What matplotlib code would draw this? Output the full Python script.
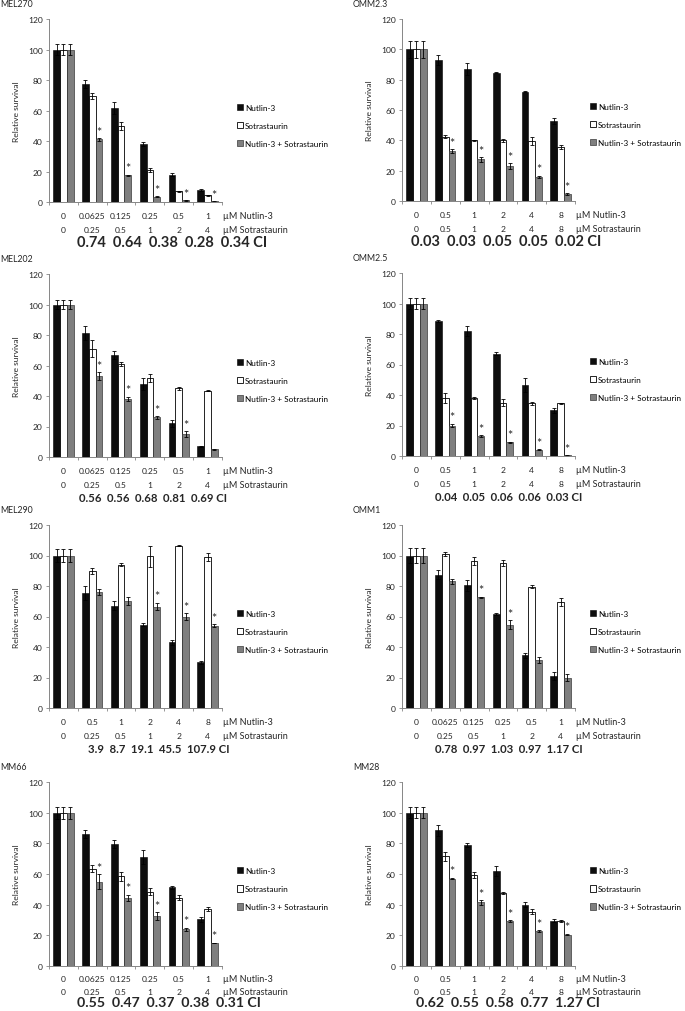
import numpy as np
import matplotlib
matplotlib.use('Agg')
import matplotlib.pyplot as plt
from matplotlib.patches import Patch

plt.rcParams['font.family'] = ['Lato', 'DejaVu Sans']

# ==========================================
# DATA
# ==========================================
series_names = ['Nutlin-3', 'Sotrastaurin', 'Nutlin-3 + Sotrastaurin']

nut_dose_low = ['0', '0.0625', '0.125', '0.25', '0.5', '1']
sot_dose_low = ['0', '0.25', '0.5', '1', '2', '4']
dose_equal = ['0', '0.5', '1', '2', '4', '8']
sot_dose_half = ['0', '0.25', '0.5', '1', '2', '4']

# MEL270
mel270_nut = [100, 77.5, 61.5, 38, 18, 8]
mel270_nut_err = [3.5, 2.5, 4, 1.2, 1.2, 0.5]
mel270_sot = [100, 69.5, 50, 21, 7, 4.5]
mel270_sot_err = [3.5, 2, 2.5, 1, 0.2, 0.3]
mel270_combo = [100, 41, 17.5, 3.5, 1, 0.5]
mel270_combo_err = [3.5, 1, 0.5, 0.5, 0.2, 0.2]
mel270_star = [0, 1, 1, 1, 1, 1]
mel270_ci = ['0.74', '0.64', '0.38', '0.28', '0.34']

# OMM2.3
omm23_nut = [100, 93, 87, 84.5, 72, 53]
omm23_nut_err = [5.5, 3.5, 4, 0.3, 0.3, 2]
omm23_sot = [100, 42.5, 40, 40, 39.5, 35.5]
omm23_sot_err = [5.5, 0.8, 0.5, 1, 2.5, 1.5]
omm23_combo = [100, 33, 27.5, 23, 16, 4.5]
omm23_combo_err = [5.5, 1.2, 1.5, 2, 0.8, 0.5]
omm23_star = [0, 1, 1, 1, 1, 1]
omm23_ci = ['0.03', '0.03', '0.05', '0.05', '0.02']

# MEL202
mel202_nut = [100, 81.5, 67, 48, 22, 7]
mel202_nut_err = [3, 4.5, 2.5, 4, 2, 0.5]
mel202_sot = [100, 71, 61, 52, 45, 43.5]
mel202_sot_err = [3, 5.5, 1.5, 2.5, 1, 0.5]
mel202_combo = [100, 53, 38, 26, 15, 5]
mel202_combo_err = [3, 2.5, 1.5, 0.8, 2, 0.3]
mel202_star = [0, 1, 1, 1, 1, 0]
mel202_ci = ['0.56', '0.56', '0.68', '0.81', '0.69']

# OMM2.5
omm25_nut = [100, 88.5, 82, 67, 46.5, 30]
omm25_nut_err = [3.5, 0.5, 3.5, 1, 4.5, 1.5]
omm25_sot = [100, 38, 38, 35, 34.5, 34.5]
omm25_sot_err = [3.5, 3, 0.8, 2.5, 1, 0.5]
omm25_combo = [100, 20, 13, 9, 4, 0.5]
omm25_combo_err = [3.5, 1.2, 0.5, 0.4, 0.3, 0.2]
omm25_star = [0, 1, 1, 1, 1, 1]
omm25_ci = ['0.04', '0.05', '0.06', '0.06', '0.03']

# MEL290
mel290_nut = [100, 75.5, 67, 54.5, 43, 30]
mel290_nut_err = [4, 4.5, 3, 1, 1.5, 1]
mel290_sot = [100, 90, 94, 99.5, 106.5, 99]
mel290_sot_err = [4, 2, 1, 7, 0.3, 2.5]
mel290_combo = [100, 76, 70, 66.5, 60, 54]
mel290_combo_err = [4, 2, 2.5, 2.5, 2, 1]
mel290_star = [0, 0, 0, 1, 1, 1]
mel290_ci = ['3.9', '8.7', '19.1', '45.5', '107.9']

# OMM1
omm1_nut = [100, 87.5, 80.5, 61.5, 34.5, 21]
omm1_nut_err = [5, 3, 3.5, 0.5, 1.5, 2.5]
omm1_sot = [100, 101, 96.5, 95, 79.5, 69.5]
omm1_sot_err = [5, 1.5, 2.5, 2, 1, 2.5]
omm1_combo = [100, 83, 72.5, 54.5, 31.5, 20]
omm1_combo_err = [5, 1.5, 0.5, 3, 2, 2.5]
omm1_star = [0, 0, 1, 1, 0, 0]
omm1_ci = ['0.78', '0.97', '1.03', '0.97', '1.17']

# MM66
mm66_nut = [100, 86, 79.5, 71, 51.5, 30.5]
mm66_nut_err = [4, 2.5, 2.5, 4.5, 1, 1.5]
mm66_sot = [100, 63.5, 58.5, 48.5, 44.5, 37]
mm66_sot_err = [4, 2.5, 3, 2.5, 1.5, 1.2]
mm66_combo = [100, 55, 44.5, 32.5, 24, 15]
mm66_combo_err = [4, 5, 2, 2.5, 1, 0.3]
mm66_star = [0, 1, 1, 1, 1, 1]
mm66_ci = ['0.55', '0.47', '0.37', '0.38', '0.31']

# MM28
mm28_nut = [100, 88.5, 79, 62, 40, 29.5]
mm28_nut_err = [3.5, 3.5, 1.5, 3.5, 1.5, 1]
mm28_sot = [100, 71.5, 59.5, 47.5, 35.5, 29.5]
mm28_sot_err = [3.5, 3, 2, 0.8, 1.5, 0.5]
mm28_combo = [100, 57, 41.5, 29.5, 23, 20.5]
mm28_combo_err = [3.5, 0.5, 1.5, 0.5, 0.5, 0.5]
mm28_star = [0, 1, 1, 1, 1, 1]
mm28_ci = ['0.62', '0.55', '0.58', '0.77', '1.27']

panels = [
    ('MEL270', mel270_nut, mel270_nut_err, mel270_sot, mel270_sot_err, mel270_combo, mel270_combo_err, mel270_star, mel270_ci, nut_dose_low, sot_dose_low),
    ('OMM2.3', omm23_nut, omm23_nut_err, omm23_sot, omm23_sot_err, omm23_combo, omm23_combo_err, omm23_star, omm23_ci, dose_equal, dose_equal),
    ('MEL202', mel202_nut, mel202_nut_err, mel202_sot, mel202_sot_err, mel202_combo, mel202_combo_err, mel202_star, mel202_ci, nut_dose_low, sot_dose_low),
    ('OMM2.5', omm25_nut, omm25_nut_err, omm25_sot, omm25_sot_err, omm25_combo, omm25_combo_err, omm25_star, omm25_ci, dose_equal, dose_equal),
    ('MEL290', mel290_nut, mel290_nut_err, mel290_sot, mel290_sot_err, mel290_combo, mel290_combo_err, mel290_star, mel290_ci, dose_equal, sot_dose_half),
    ('OMM1', omm1_nut, omm1_nut_err, omm1_sot, omm1_sot_err, omm1_combo, omm1_combo_err, omm1_star, omm1_ci, nut_dose_low, sot_dose_low),
    ('MM66', mm66_nut, mm66_nut_err, mm66_sot, mm66_sot_err, mm66_combo, mm66_combo_err, mm66_star, mm66_ci, nut_dose_low, sot_dose_low),
    ('MM28', mm28_nut, mm28_nut_err, mm28_sot, mm28_sot_err, mm28_combo, mm28_combo_err, mm28_star, mm28_ci, dose_equal, dose_equal),
]

# ==========================================
# LAYOUT (pixel posisi axes: left, top, bottom)
# ==========================================
W, H = 685, 1012
axes_px = [(49, 20, 203), (402, 20, 202),
           (49, 275, 458), (402, 274, 457),
           (49, 526, 709), (402, 526, 709),
           (49, 783, 967), (402, 783, 967)]
axes_w = 173
ci_start = [0.162, 0.052, 0.173, 0.191, 0.225, 0.191, 0.162, 0.081]
ci_size = [10.5, 10.5, 8.2, 8.2, 8.2, 8.2, 10.2, 10.2]
# offset baris label di bawah sumbu (pt): dosis Nutlin, dosis Sotrastaurin, CI
row_off = [(-10, -19.5, -29)] * 6 + [(-9, -18.5, -26)] * 2

AXIS_COL = '#868686'
TXT_COL = '#262626'
FS = 6.1

fig = plt.figure(figsize=(W / 100, H / 100), dpi=100, facecolor='white')


def draw_panel(ax, p, ci_x, ci_fs, offs):
    name, nut, nut_e, sot, sot_e, combo, combo_e, star, ci, nut_lab, sot_lab = p
    off1, off2, off3 = offs
    x = np.arange(len(nut))
    w = 0.235
    ekw = dict(elinewidth=0.6, capsize=1.6, capthick=0.6, ecolor='black')

    ax.bar(x - w, nut, w, yerr=nut_e, color='#0d0d0d', edgecolor='black', linewidth=0.4, error_kw=ekw, zorder=2)
    ax.bar(x, sot, w, yerr=sot_e, color='white', edgecolor='black', linewidth=0.6, error_kw=ekw, zorder=2)
    ax.bar(x + w, combo, w, yerr=combo_e, color='#7f7f7f', edgecolor='#3a3a3a', linewidth=0.5, error_kw=ekw, zorder=2)

    # tanda bintang di atas bar kombinasi
    for xi, yv, ev, s in zip(x, combo, combo_e, star):
        if s:
            ax.annotate('*', xy=(xi + w, yv + ev), xytext=(0, 4.6), textcoords='offset points',
                        ha='center', va='center', fontsize=9, color=TXT_COL)

    ax.set_xlim(-0.5, len(nut) - 0.5)
    ax.set_ylim(0, 120)
    ax.set_yticks(np.arange(0, 121, 20))
    ax.set_xticks(np.arange(-0.5, len(nut), 1.0))
    ax.set_xticklabels([])
    ax.tick_params(axis='y', labelsize=FS, colors=AXIS_COL, labelcolor=TXT_COL, length=2.5, width=0.6, pad=2)
    ax.tick_params(axis='x', colors=AXIS_COL, length=2.5, width=0.6)
    for sp in ['top', 'right']:
        ax.spines[sp].set_visible(False)
    for sp in ['left', 'bottom']:
        ax.spines[sp].set_color(AXIS_COL)
        ax.spines[sp].set_linewidth(0.7)

    ax.set_ylabel('Relative survival', fontsize=FS, color=TXT_COL, labelpad=6)

    # judul panel
    ax.annotate(name, xy=(-49 / axes_w, 1), xycoords='axes fraction', xytext=(0, 11),
                textcoords='offset points', ha='left', va='center', fontsize=FS + 0.2, color=TXT_COL)

    # label dosis di bawah sumbu x
    for xi, a, b in zip(x, nut_lab, sot_lab):
        ax.annotate(a, xy=(xi, 0), xycoords=('data', 'axes fraction'), xytext=(0, off1),
                    textcoords='offset points', ha='center', va='center', fontsize=FS, color=TXT_COL)
        ax.annotate(b, xy=(xi, 0), xycoords=('data', 'axes fraction'), xytext=(0, off2),
                    textcoords='offset points', ha='center', va='center', fontsize=FS, color=TXT_COL)
    ax.annotate('\u00b5M Nutlin-3', xy=(1, 0), xycoords='axes fraction', xytext=(1, off1),
                textcoords='offset points', ha='left', va='center', fontsize=FS + 0.4, color=TXT_COL)
    ax.annotate('\u00b5M Sotrastaurin', xy=(1, 0), xycoords='axes fraction', xytext=(1, off2),
                textcoords='offset points', ha='left', va='center', fontsize=FS + 0.4, color=TXT_COL)

    # baris CI
    ax.annotate('  '.join(ci) + ' CI', xy=(ci_x, 0), xycoords='axes fraction', xytext=(0, off3),
                textcoords='offset points', ha='left', va='center', fontsize=ci_fs,
                fontweight='bold', color=TXT_COL)

    handles = [Patch(facecolor='#0d0d0d', edgecolor='black', linewidth=0.4),
               Patch(facecolor='white', edgecolor='black', linewidth=0.6),
               Patch(facecolor='#7f7f7f', edgecolor='#3a3a3a', linewidth=0.5)]
    ax.legend(handles, series_names, loc='center left', bbox_to_anchor=(1.065, 0.42),
              frameon=False, fontsize=5.9, handlelength=0.8, handleheight=0.8,
              handletextpad=0.25, labelspacing=1.35, borderaxespad=0)


for p, (lx, top, bot), cx, cfs, offs in zip(panels, axes_px, ci_start, ci_size, row_off):
    ax = fig.add_axes([lx / W, 1 - bot / H, axes_w / W, (bot - top) / H])
    draw_panel(ax, p, cx, cfs, offs)

fig.savefig('out.png', dpi=100, facecolor='white')
